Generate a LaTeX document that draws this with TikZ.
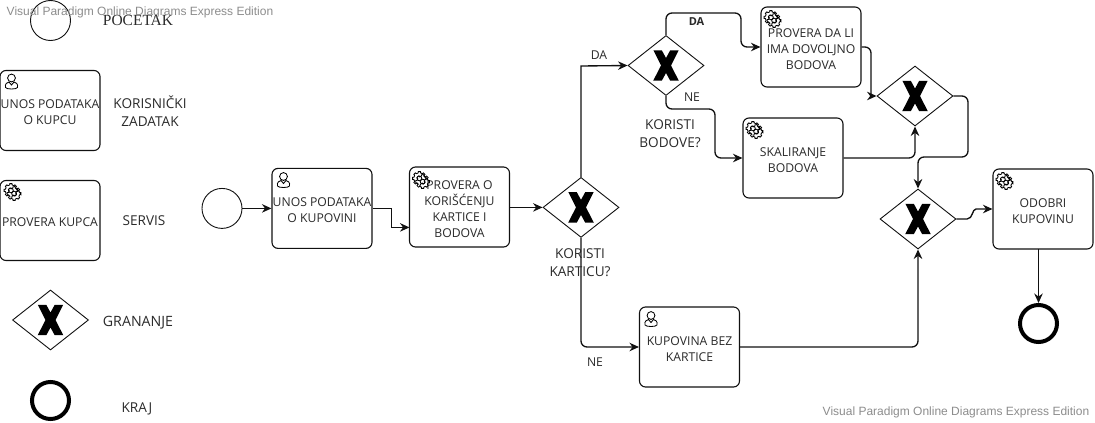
\documentclass[tikz,border=0pt]{standalone}
\usepackage{fontspec}
\setmainfont{Open Sans}
\newfontfamily\wmfont{Liberation Sans}
\newfontfamily\serfont{Liberation Serif}
\usetikzlibrary{shapes.geometric,arrows.meta}
\definecolor{ink}{HTML}{111111}
\definecolor{txt}{HTML}{2A2A2A}
\definecolor{wm}{HTML}{8C8C8C}
\newcommand{\up}{\rule{0pt}{12.6pt}}
\newcommand{\bigx}{%
  \fill[black] (-12.6,-15.2)--(-4.2,-15.2)--(0,-7.5)--(4.2,-15.2)--(12.6,-15.2)--(5,0)--(12.8,15.2)--(4.2,15.2)--(0,7.5)--(-4.2,15.2)--(-12.8,15.2)--(-5,0)--cycle;}
\newcommand{\onegear}[2]{%
  \begin{scope}[shift={(#1)},scale=#2]
  \filldraw[fill=white,draw=black,line width=.85pt]
    \foreach \a in {0,45,...,315}{
      (\a-13:7) -- (\a-9:8.6) -- (\a+9:8.6) -- (\a+13:7) -- (\a+32:7)
    } -- cycle;
  \draw[black,line width=.85pt] (0,0) circle (3);
  \end{scope}}
\tikzset{
  x=1pt,y=-1pt,
  every node/.style={font=\fontsize{12.2}{16}\selectfont,text=txt,inner sep=0pt,align=center},
  taskbox/.style={draw=ink,fill=white,line width=1.1pt,rounded corners=6pt,minimum width=100pt,minimum height=80pt},
  gate/.style={diamond,draw=ink,fill=white,line width=.9pt,minimum width=76pt,minimum height=60pt},
  startev/.style={circle,draw=ink,fill=white,line width=.9pt,minimum size=40pt},
  endev/.style={circle,draw=black,fill=white,line width=4pt,minimum size=37pt},
  flow/.style={draw=ink,line width=1.35pt,rounded corners=6pt,-{Stealth[length=9.5pt,width=8.5pt]}},
  lbl/.style={fill=none},
  bigtxt/.style={font=\fontsize{13.6}{18.5}\selectfont},
  watermark/.style={font=\wmfont\fontsize{12}{14}\selectfont,text=wm},
  geardraw/.pic={\onegear{-1.6,-1.6}{0.8}\onegear{1.6,1.6}{0.8}},
  userdraw/.pic={
    \draw[black,line width=.85pt] (-6,6) .. controls (-7,2.5) and (-4,0.5) .. (-2.5,0.5) -- (0,3.5) -- (2.5,0.5) .. controls (4,0.5) and (7,2.5) .. (6,6) .. controls (5,8) and (-5,8) .. (-6,6) -- cycle;
    \draw[black,fill=white,line width=.85pt] (0,-3.5) circle (3.9);
  }
}
\begin{document}
\begin{tikzpicture}
\useasboundingbox (0,0) rectangle (1095,423);
% legend
\node[startev] (lstart) at (50.5,20.5) {};
\node[lbl,font=\serfont\fontsize{15.5}{17}\selectfont] (tstart) at (138,20.5) {POCETAK};
\node[taskbox] (luser) at (50,110.5) {\up UNOS PODATAKA\\O KUPCU};
\node[lbl,bigtxt] (tuser) at (150,111) {KORISNIČKI\\ZADATAK};
\node[taskbox] (lserv) at (50,220.5) {\up PROVERA KUPCA};
\node[lbl,bigtxt] (tserv) at (144,220.5) {SERVIS};
\node[gate] (lgate) at (50.5,320) {};
\node[lbl,font=\fontsize{14.2}{18}\selectfont] (tgate) at (138,322.5) {GRANANJE};
\node[endev] (lend) at (50.5,400.5) {};
\node[lbl,bigtxt] (tend) at (137,408.5) {KRAJ};
% tasks
\node[startev] (start) at (222,208.4) {};
\node[taskbox] (t1) at (322,208.4) {\up UNOS PODATAKA\\O KUPOVINI};
\node[taskbox] (t2) at (459.5,207) {\up PROVERA O\\KORIŠĆENJU\\KARTICE I\\BODOVA};
\node[gate] (g1) at (581,207.4) {};
\node[gate] (g2) at (666,65.5) {};
\node[taskbox] (t3) at (811,47) {\up PROVERA DA LI\\IMA DOVOLJNO\\BODOVA};
\node[taskbox] (t4) at (793,158) {\up SKALIRANJE\\BODOVA};
\node[gate] (g3) at (915,96) {};
\node[gate] (g4) at (918,219) {};
\node[taskbox] (t5) at (1043,209) {\up ODOBRI\\KUPOVINU};
\node[taskbox] (t6) at (689.5,347) {\up KUPOVINA BEZ\\KARTICE};
\node[endev] (end) at (1038.5,323.5) {};
% bends
\coordinate (a1) at (391.4,208.4);
\coordinate (a2) at (391.4,227.4);
\coordinate (a3) at (409.5,227.4);
\coordinate (b1) at (581,66);
\coordinate (c1) at (666,13);
\coordinate (c2) at (741,13);
\coordinate (c3) at (741,47);
\coordinate (d1) at (666,109);
\coordinate (d2) at (715,109);
\coordinate (d3) at (715,158);
\coordinate (e1) at (871,47);
\coordinate (e2) at (871,96);
\coordinate (f1) at (915,158);
\coordinate (h1) at (968,96);
\coordinate (h2) at (968,157);
\coordinate (h3) at (918,157);
\coordinate (j1) at (581,347);
\coordinate (k1) at (918,347);
\coordinate (m1) at (967,219);
\coordinate (m2) at (976,209);
\coordinate (n1) at (1038.5,249);
% flows
\draw[flow] (start) -- (t1);
\draw[flow,sharp corners] (t1.east) -- (a1) -- (a2) -- (a3);
\draw[flow] (t2.east |- g1.west) -- (g1.west);
\draw[flow,sharp corners] (g1.north) -- (b1) -- (g2.west);
\draw[flow] (g2.north) -- (c1) -- (c2) -- (c3) -- (t3.west);
\draw[flow] (g2.south) -- (d1) -- (d2) -- (d3) -- (t4.west);
\draw[flow] (t3.east) -- (e1) [sharp corners] -- (e2) -- (g3.west);
\draw[flow] (t4.east) -- (f1) -- (g3.south);
\draw[flow] (g3.east) -- (h1) -- (h2) -- (h3) -- (g4.north);
\draw[flow] (g1.south) -- (j1) -- (t6.west);
\draw[flow] (t6.east) -- (k1) -- (g4.south);
\draw[flow,rounded corners=0pt] (g4.east) -- (m1) .. controls (973,219) and (972,209) .. (m2) -- (t5.west);
\draw[flow] (n1) -- (end.north);
% gateway marks
\begin{scope}[shift={(lgate.center)}]\bigx\end{scope}
\begin{scope}[shift={(g1.center)}]\bigx\end{scope}
\begin{scope}[shift={(g2.center)}]\bigx\end{scope}
\begin{scope}[shift={(g3.center)}]\bigx\end{scope}
\begin{scope}[shift={(g4.center)}]\bigx\end{scope}
% icons
\pic at (11.5,81.5) {userdraw};
\pic at (283.5,180) {userdraw};
\pic at (651,319) {userdraw};
\pic at (12.5,192) {geardraw};
\pic at (421,180) {geardraw};
\pic at (772.5,19) {geardraw};
\pic at (754.5,130) {geardraw};
\pic at (1004.5,181) {geardraw};
% labels
\node[lbl] (lda1) at (599,55) {DA};
\node[lbl,font=\bfseries\fontsize{11}{14}\selectfont] (lda2) at (696.5,22) {DA};
\node[lbl] (lne1) at (692,97.5) {NE};
\node[lbl,bigtxt] (q2) at (670,133.5) {KORISTI\\BODOVE?};
\node[lbl,bigtxt] (q1) at (580,262.5) {KORISTI\\KARTICU?};
\node[lbl] (lne2) at (595,362.5) {NE};
% watermarks
\node[watermark] (wm1) at (140,12) {Visual Paradigm Online Diagrams Express Edition};
\node[watermark] (wm2) at (956,412.5) {Visual Paradigm Online Diagrams Express Edition};
\end{tikzpicture}
\end{document}
